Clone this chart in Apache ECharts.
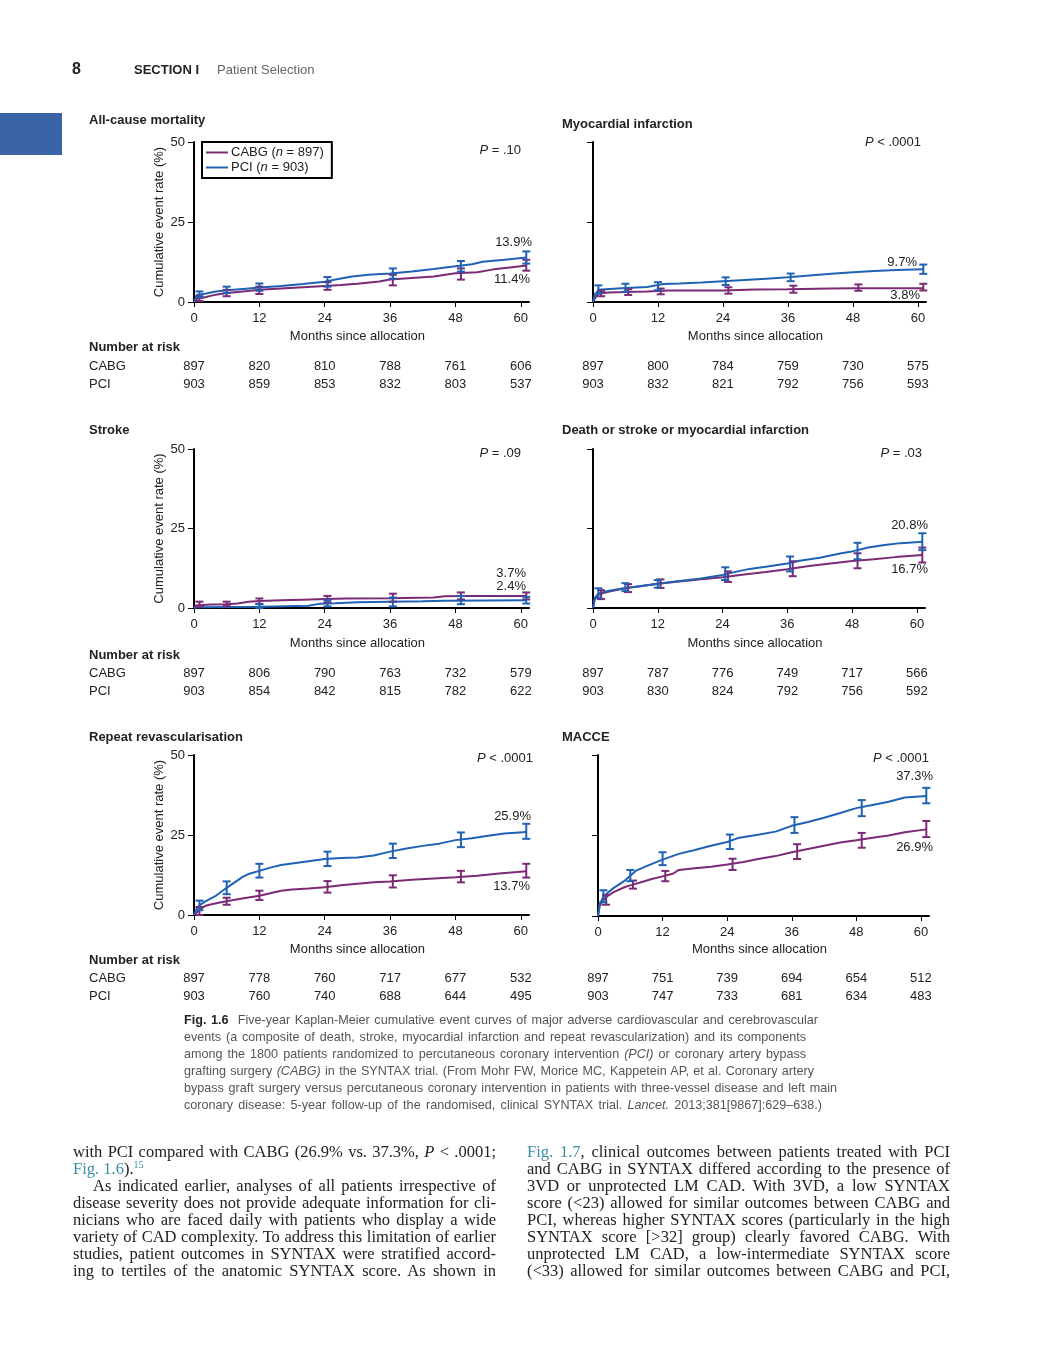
<!DOCTYPE html>
<html><head><meta charset="utf-8">
<script src="https://cdn.jsdelivr.net/npm/echarts@6/dist/echarts.min.js"></script>
<style>
html,body{margin:0;padding:0;background:#fff;}
#page{position:relative;width:1052px;height:1346px;overflow:hidden;background:#fff;}
#chart{position:absolute;left:0;top:0;width:1052px;height:1346px;}
.t{position:absolute;white-space:nowrap;}
.cap{position:absolute;left:184px;font:12.6px 'Liberation Sans',Arial,sans-serif;color:#555;white-space:nowrap;text-align:justify;text-align-last:justify;line-height:17px;}
.cap b{color:#222;}
.body{position:absolute;font:16.5px 'Liberation Serif','DejaVu Serif',serif;color:#222;white-space:nowrap;line-height:17px;height:17px;width:423px;text-align:justify;text-align-last:justify;}
.body.last{text-align-last:left;}
.lk{color:#3a8fa6;}
.sup{font-size:10px;position:relative;top:-6px;line-height:0;}
</style></head><body>
<div id="page">
<div id="chart"></div>
<div class="t" style="left:72px;top:60px;font:bold 16px 'Liberation Sans',Arial,sans-serif;color:#222;">8</div>
<div class="t" style="left:134px;top:62px;font:bold 13px 'Liberation Sans',Arial,sans-serif;color:#222;">SECTION I</div>
<div class="t" style="left:217px;top:62px;font:13px 'Liberation Sans',Arial,sans-serif;color:#666;">Patient Selection</div>
<div style="position:absolute;left:0;top:113px;width:62px;height:42px;background:#3b64a6;"></div>

<div class="cap" style="top:1012px;width:634px;"><b>Fig. 1.6</b>&nbsp; Five-year Kaplan-Meier cumulative event curves of major adverse cardiovascular and cerebrovascular</div>
<div class="cap" style="top:1029px;width:622px;">events (a composite of death, stroke, myocardial infarction and repeat revascularization) and its components</div>
<div class="cap" style="top:1046px;width:622px;">among the 1800 patients randomized to percutaneous coronary intervention <i>(PCI)</i> or coronary artery bypass</div>
<div class="cap" style="top:1063px;width:630px;">grafting surgery <i>(CABG)</i> in the SYNTAX trial. (From Mohr FW, Morice MC, Kappetein AP, et al. Coronary artery</div>
<div class="cap" style="top:1080px;width:653px;">bypass graft surgery versus percutaneous coronary intervention in patients with three-vessel disease and left main</div>
<div class="cap" style="top:1097px;width:638px;">coronary disease: 5-year follow-up of the randomised, clinical SYNTAX trial. <i>Lancet.</i> 2013;381[9867]:629–638.)</div>

<div class="body" style="left:73px;top:1143px;">with PCI compared with CABG (26.9% vs. 37.3%, <i>P</i> &lt; .0001;</div>
<div class="body last" style="left:73px;top:1160px;"><span class="lk">Fig. 1.6</span>).<span class="lk sup">15</span></div>
<div class="body" style="left:93px;top:1177px;width:403px;">As indicated earlier, analyses of all patients irrespective of</div>
<div class="body" style="left:73px;top:1194px;">disease severity does not provide adequate information for cli-</div>
<div class="body" style="left:73px;top:1211px;">nicians who are faced daily with patients who display a wide</div>
<div class="body" style="left:73px;top:1228px;">variety of CAD complexity. To address this limitation of earlier</div>
<div class="body" style="left:73px;top:1245px;">studies, patient outcomes in SYNTAX were stratified accord-</div>
<div class="body" style="left:73px;top:1262px;">ing to tertiles of the anatomic SYNTAX score. As shown in</div>

<div class="body" style="left:527px;top:1143px;"><span class="lk">Fig. 1.7</span>, clinical outcomes between patients treated with PCI</div>
<div class="body" style="left:527px;top:1160px;">and CABG in SYNTAX differed according to the presence of</div>
<div class="body" style="left:527px;top:1177px;">3VD or unprotected LM CAD. With 3VD, a low SYNTAX</div>
<div class="body" style="left:527px;top:1194px;">score (&lt;23) allowed for similar outcomes between CABG and</div>
<div class="body" style="left:527px;top:1211px;">PCI, whereas higher SYNTAX scores (particularly in the high</div>
<div class="body" style="left:527px;top:1228px;">SYNTAX score [&gt;32] group) clearly favored CABG. With</div>
<div class="body" style="left:527px;top:1245px;">unprotected LM CAD, a low-intermediate SYNTAX score</div>
<div class="body" style="left:527px;top:1262px;">(&lt;33) allowed for similar outcomes between CABG and PCI,</div>
</div>
<script>
// ---------- DATA ----------
const riskMonths = [0, 12, 24, 36, 48, 60];
const yTicks = [0, 25, 50];

// All-cause mortality
const acmCABG = [[0,0],[0.5,1.0],[2,1.5],[4,2.3],[6,2.8],[9,3.3],[12,3.8],[16,4.2],[20,4.6],[24,5.0],[27,5.3],[30,5.7],[34,6.4],[36,7.0],[40,7.5],[44,8.0],[48,9.0],[52,9.3],[55,10.2],[58,10.8],[61,11.4]];
const acmPCI = [[0,0],[0.5,2.2],[2,2.6],[4,3.3],[6,3.7],[9,4.1],[12,4.5],[16,5.0],[20,5.6],[24,6.3],[26,7.0],[29,8.0],[32,8.5],[36,8.9],[40,9.5],[44,10.3],[48,11.2],[51,11.8],[53,12.6],[57,13.2],[61,13.9]];
const acmErrCABG = [[1,0.3,1.8],[6,1.8,3.8],[12,2.5,4.8],[24.5,3.8,6.2],[36.5,5.2,8.5],[49,7.0,10.5],[61,9.8,13.2]];
const acmErrPCI = [[1,1.5,3.3],[6,2.8,4.8],[12,3.5,5.8],[24.5,4.8,7.8],[36.5,7.3,10.5],[49,9.5,12.8],[61,12.0,15.8]];
const acmRiskCABG = [897, 820, 810, 788, 761, 606];
const acmRiskPCI = [903, 859, 853, 832, 803, 537];

// Myocardial infarction
const miCABG = [[0,0],[0.5,1.5],[1,2.7],[3,3.0],[6,3.1],[10,3.3],[14,3.6],[24,3.6],[30,3.9],[36,4.0],[44,4.2],[48,4.3],[61,4.3]];
const miPCI = [[0,0],[0.3,2.0],[1,3.8],[3,4.1],[6,4.4],[10,4.7],[13,5.6],[16,5.8],[20,6.1],[24,6.5],[28,6.9],[32,7.3],[36,7.7],[40,8.3],[44,8.8],[48,9.3],[52,9.7],[56,10.0],[61,10.2]];
const miErrCABG = [[1.5,1.8,3.5],[6.5,2.2,4.0],[12.5,2.4,4.2],[25,2.6,4.6],[37,2.9,5.1],[49,3.5,5.5],[61,3.6,5.7]];
const miErrPCI = [[1,2.6,5.2],[6,3.2,5.7],[12,3.7,6.2],[24.5,5.3,7.7],[36.5,6.5,8.9],[61,8.8,11.7]];
const miRiskCABG = [897, 800, 784, 759, 730, 575];
const miRiskPCI = [903, 832, 821, 792, 756, 593];

// Stroke
const stCABG = [[0,0],[0.3,0.8],[3,1.1],[6,1.2],[8,1.4],[10,2.0],[12,2.2],[16,2.4],[20,2.6],[24,2.8],[28,3.0],[36,3.1],[44,3.3],[46,3.7],[50,3.8],[61,3.8]];
const stPCI = [[0,0],[0.5,0.2],[6,0.3],[12,0.4],[15,0.5],[21,0.7],[23,1.3],[26,1.5],[30,1.8],[36,2.0],[42,2.1],[46,2.3],[61,2.4]];
const stErrCABG = [[1,0.4,2.0],[6,0.6,2.0],[12,1.3,3.0],[24.5,1.8,3.8],[36.5,2.0,4.5],[49,2.7,4.9],[61,2.7,4.9]];
const stErrPCI = [[12,0,1.2],[24.5,0.5,2.5],[36.5,0.5,3.3],[49,1.2,3.8],[61,1.4,3.5]];
const stRiskCABG = [897, 806, 790, 763, 732, 579];
const stRiskPCI = [903, 854, 842, 815, 782, 622];

// Death or stroke or MI
const dsmCABG = [[0,0],[0.3,2.5],[1,4.3],[3,5.2],[6,6.2],[9,6.9],[12,7.6],[16,8.3],[20,9.0],[24,9.7],[28,10.5],[32,11.3],[36,12.2],[40,13.2],[44,14.0],[48,14.8],[52,15.3],[56,16.0],[61,16.7]];
const dsmPCI = [[0,0],[0.3,3.0],[1,4.6],[3,5.4],[6,6.3],[9,6.9],[12,7.6],[16,8.5],[20,9.3],[24,10.4],[26,11.2],[29,12.3],[32,13.0],[36,14.0],[38,14.8],[42,15.8],[46,17.2],[48,17.8],[51,19.0],[54,19.8],[57,20.4],[61,20.8]];
const dsmErrCABG = [[1.5,2.8,5.6],[6.5,5.0,7.5],[12.5,6.3,9.0],[25,8.2,11.5],[37,10.0,14.7],[49,12.5,17.2],[61,14.3,19.0]];
const dsmErrPCI = [[1,3.2,6.2],[6,5.3,7.8],[12,6.4,8.8],[24.5,8.8,12.8],[36.5,11.5,16.2],[49,15.3,20.5],[61,18.2,23.5]];
const dsmRiskCABG = [897, 787, 776, 749, 717, 566];
const dsmRiskPCI = [903, 830, 824, 792, 756, 592];

// Repeat revascularisation
const rrCABG = [[0,0],[0.5,0.8],[1,1.5],[2,2.8],[3,3.3],[5,4.0],[6,4.3],[8,4.9],[10,5.5],[12,6.0],[13,6.4],[14,6.8],[16,7.6],[18,8.0],[21,8.3],[24,8.7],[27,9.3],[30,9.8],[33,10.2],[36,10.5],[40,11.0],[44,11.4],[48,11.8],[52,12.3],[56,13.0],[61,13.7]];
const rrPCI = [[0,0],[0.5,2.0],[1,3.0],[2,4.2],[4,6.0],[6,8.5],[8,10.8],[9,12.0],[10,12.8],[12,13.8],[14,14.8],[16,15.6],[18,16.1],[21,16.8],[24,17.5],[27,17.8],[30,18.0],[33,18.6],[36,19.8],[39,20.8],[42,21.6],[45,22.3],[48,23.4],[51,24.0],[54,24.8],[57,25.5],[61,25.9]];
const rrErrCABG = [[1,0,2.5],[6,3.2,5.4],[12,4.7,7.6],[24.5,7.0,10.6],[36.5,8.6,12.4],[49,10.2,13.8],[61,11.7,16.0]];
const rrErrPCI = [[1,1.5,4.5],[6,6.5,10.5],[12,11.7,16.0],[24.5,15.3,19.8],[36.5,17.8,22.3],[49,21.2,25.8],[61,23.8,28.5]];
const rrRiskCABG = [897, 778, 760, 717, 677, 532];
const rrRiskPCI = [903, 760, 740, 688, 644, 495];

// MACCE
const mcCABG = [[0,0],[0.3,3.0],[1,5.0],[2,6.5],[3,7.5],[5,9.0],[6,9.5],[8,10.5],[10,11.5],[12,12.3],[14,13.2],[15,14.3],[18,14.8],[21,15.3],[24,16.0],[27,16.8],[30,17.8],[33,18.6],[36,19.8],[39,20.8],[42,21.8],[45,22.8],[48,23.5],[51,24.3],[54,25.0],[57,26.0],[61,26.9]];
const mcPCI = [[0,0],[0.3,3.5],[1,6.0],[2,7.5],[3,8.8],[5,11.0],[6,12.5],[7,14.0],[9,15.5],[12,17.5],[15,19.3],[18,20.5],[21,21.8],[24,23.0],[26,24.2],[30,25.3],[33,26.2],[36,28.0],[39,29.2],[42,30.5],[45,32.0],[48,33.5],[51,34.5],[54,35.5],[57,36.8],[61,37.3]];
const mcErrCABG = [[1.5,3.5,6.5],[6.5,8.5,11.0],[12.5,10.8,14.0],[25,14.3,17.8],[37,17.7,22.3],[49,21.2,25.8],[61,24.5,29.5]];
const mcErrPCI = [[1,4.3,8.0],[6,10.8,14.3],[12,15.8,19.8],[24.5,20.8,25.3],[36.5,25.8,30.7],[49,31.0,36.0],[61,35.0,39.8]];
const mcRiskCABG = [897, 751, 739, 694, 654, 512];
const mcRiskPCI = [903, 747, 733, 681, 634, 483];

const titles = ['All-cause mortality','Myocardial infarction','Stroke','Death or stroke or myocardial infarction','Repeat revascularisation','MACCE'];
const pTexts = ['= .10','< .0001','= .09','= .03','< .0001','< .0001'];
const endCABG = ['11.4%','3.8%','3.7%','16.7%','13.7%','26.9%'];
const endPCI = ['13.9%','9.7%','2.4%','20.8%','25.9%','37.3%'];

// ---------- LAYOUT ----------
const CABG_COLOR = '#7b2a76';
const PCI_COLOR = '#1f62b4';
const FONT = "'Liberation Sans', Arial, sans-serif";
const grids = [
  {left:194, top:142, width:335, height:160},
  {left:593, top:142, width:333, height:160},
  {left:194, top:449, width:335, height:159},
  {left:593, top:449, width:332, height:159},
  {left:194, top:755, width:335, height:160},
  {left:598, top:755, width:331, height:161}
];
const titlePos = [[89,120],[562,124],[89,430],[562,430],[89,737],[562,737]];
const pPos = [[521,150],[921,142],[521,453],[922,453],[533,758],[929,758]];
const pcPos = [[532,242],[917,262],[526,586],[928,525],[531,816],[933,776]];
const cbPos = [[530,279],[920,295],[526,573],[928,569],[530,886],[933,847]];
const xNameY = [336,336,643,643,949,949];
const riskRowY = [[366,384],[366,384],[673,691],[673,691],[978,996],[978,996]];
const narY = [347,null,655,null,960,null];

const curves = [[acmCABG,acmPCI],[miCABG,miPCI],[stCABG,stPCI],[dsmCABG,dsmPCI],[rrCABG,rrPCI],[mcCABG,mcPCI]];
const errs = [[acmErrCABG,acmErrPCI],[miErrCABG,miErrPCI],[stErrCABG,stErrPCI],[dsmErrCABG,dsmErrPCI],[rrErrCABG,rrErrPCI],[mcErrCABG,mcErrPCI]];
const risks = [[acmRiskCABG,acmRiskPCI],[miRiskCABG,miRiskPCI],[stRiskCABG,stRiskPCI],[dsmRiskCABG,dsmRiskPCI],[rrRiskCABG,rrRiskPCI],[mcRiskCABG,mcRiskPCI]];

function errRender(params, api){
  const x = api.value(0), lo = api.value(1), hi = api.value(2);
  const a = api.coord([x, lo]), b = api.coord([x, hi]);
  const w = 4;
  const style = {stroke: api.visual('color'), lineWidth: 2};
  return {type:'group', children:[
    {type:'line', shape:{x1:a[0],y1:a[1],x2:b[0],y2:b[1]}, style:style},
    {type:'line', shape:{x1:a[0]-w,y1:a[1],x2:a[0]+w,y2:a[1]}, style:style},
    {type:'line', shape:{x1:b[0]-w,y1:b[1],x2:b[0]+w,y2:b[1]}, style:style}
  ]};
}

const xAxes = [], yAxes = [], series = [];
grids.forEach((g, i) => {
  const left = (i % 2 === 0);
  xAxes.push({
    gridIndex:i, type:'value', min:0, max:61.5, interval:12,
    axisLine:{show:true, lineStyle:{color:'#000', width:2}},
    axisTick:{show:true, length:5, lineStyle:{color:'#000', width:1}, customValues:riskMonths},
    axisLabel:{show:true, color:'#222', fontSize:13, fontFamily:FONT, margin:10, customValues:riskMonths,
      formatter: v => (v % 12 === 0 ? String(v) : '')},
    splitLine:{show:false}
  });
  yAxes.push({
    gridIndex:i, type:'value', min:0, max:50, interval:25,
    axisLine:{show:true, onZero:false, lineStyle:{color:'#000', width:2}},
    axisTick:{show:true, length:6, lineStyle:{color:'#000', width:1}},
    axisLabel:{show:left, color:'#222', fontSize:13, fontFamily:FONT, margin:9},
    splitLine:{show:false},
    name: left ? 'Cumulative event rate (%)' : '',
    nameLocation:'middle', nameGap:28, nameRotate:90,
    nameTextStyle:{color:'#222', fontSize:13, fontFamily:FONT}
  });
  const names = ['CABG','PCI'], cols = [CABG_COLOR, PCI_COLOR];
  [1,0].forEach(k => {
    series.push({
      name:names[k], type:'line', xAxisIndex:i, yAxisIndex:i, data:curves[i][k],
      showSymbol:false, symbol:'none', silent:true,
      lineStyle:{color:cols[k], width:2}, itemStyle:{color:cols[k]}, z:3+k
    });
    series.push({
      name:names[k]+' err', type:'custom', xAxisIndex:i, yAxisIndex:i, data:errs[i][k],
      renderItem:errRender, encode:{x:0, y:[1,2]}, itemStyle:{color:cols[k]}, silent:true, z:5+k
    });
  });
});

const chart = echarts.init(document.getElementById('chart'), null, {renderer:'canvas'});
chart.setOption({
  animation:false,
  backgroundColor:'transparent',
  grid: grids.map(g => Object.assign({containLabel:false}, g)),
  xAxis: xAxes, yAxis: yAxes, series: series,
  legend: {
    data:['CABG','PCI'], left:202, top:142, orient:'vertical',
    borderColor:'#000', borderWidth:2, padding:[4,8,4,4], itemGap:2,
    icon:'rect', itemWidth:22, itemHeight:2,
    textStyle:{color:'#222', fontSize:13, fontFamily:FONT, padding:[0,0,0,-2],
      rich:{i:{fontStyle:'italic', fontSize:13, fontFamily:FONT, color:'#222'}}},
    formatter: n => n === 'CABG' ? 'CABG ({i|n} = 897)' : 'PCI ({i|n} = 903)',
    selectedMode:false
  }
});

const gr = [];
function txt(x, y, text, opt){
  gr.push({type:'text', x:x, y:y, silent:true, z:100, style:Object.assign({
    text:text, fill:'#222', font:'13px ' + FONT, textAlign:'left', textVerticalAlign:'middle'
  }, opt || {})});
}
grids.forEach((g, i) => {
  txt(titlePos[i][0], titlePos[i][1], titles[i], {font:'bold 13px ' + FONT});
  txt(pPos[i][0], pPos[i][1], '{i|P} ' + pTexts[i], {textAlign:'right',
    rich:{i:{fontStyle:'italic', font:'italic 13px ' + FONT, fill:'#222'}}});
  txt(pcPos[i][0], pcPos[i][1], endPCI[i], {textAlign:'right'});
  txt(cbPos[i][0], cbPos[i][1], endCABG[i], {textAlign:'right'});
  const cx = chart.convertToPixel({xAxisIndex:i}, 30);
  txt(cx, xNameY[i], 'Months since allocation', {textAlign:'center'});
  riskMonths.forEach((m, j) => {
    const px = chart.convertToPixel({xAxisIndex:i}, m);
    txt(px, riskRowY[i][0], String(risks[i][0][j]), {textAlign:'center'});
    txt(px, riskRowY[i][1], String(risks[i][1][j]), {textAlign:'center'});
  });
  if (narY[i] !== null) {
    txt(89, narY[i], 'Number at risk', {font:'bold 13px ' + FONT});
    txt(89, riskRowY[i][0], 'CABG');
    txt(89, riskRowY[i][1], 'PCI');
  }
});
chart.setOption({graphic: gr});
</script>
</body></html>
